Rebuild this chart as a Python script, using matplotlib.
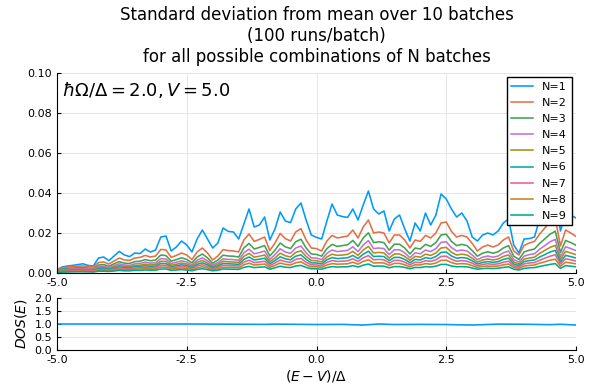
import numpy as np
import matplotlib
matplotlib.use("Agg")
import matplotlib.pyplot as plt

# energy grid (E-V)/Delta
energy = np.linspace(-5.0, 5.0, 101)

# standard deviation for each N
n1 = [0.0017, 0.0030, 0.0035, 0.0038, 0.0042, 0.0046, 0.0038, 0.0035, 0.0075, 0.0080,
      0.0062, 0.0085, 0.0108, 0.0090, 0.0082, 0.0100, 0.0097, 0.0120, 0.0105, 0.0115,
      0.0180, 0.0185, 0.0110, 0.0130, 0.0160, 0.0140, 0.0105, 0.0170, 0.0215, 0.0170,
      0.0125, 0.0150, 0.0225, 0.0208, 0.0205, 0.0170, 0.0245, 0.0320, 0.0230, 0.0240,
      0.0280, 0.0165, 0.0220, 0.0305, 0.0260, 0.0252, 0.0320, 0.0350, 0.0265, 0.0190,
      0.0178, 0.0170, 0.0260, 0.0345, 0.0290, 0.0282, 0.0278, 0.0320, 0.0265, 0.0340,
      0.0410, 0.0320, 0.0295, 0.0310, 0.0210, 0.0270, 0.0290, 0.0220, 0.0160, 0.0250,
      0.0210, 0.0300, 0.0240, 0.0290, 0.0395, 0.0370, 0.0320, 0.0280, 0.0300, 0.0260,
      0.0180, 0.0160, 0.0190, 0.0200, 0.0190, 0.0210, 0.0250, 0.0270, 0.0140, 0.0100,
      0.0170, 0.0172, 0.0180, 0.0270, 0.0320, 0.0370, 0.0400, 0.0210, 0.0300, 0.0290,
      0.0275]
n2 = [0.0020, 0.0025, 0.0030, 0.0033, 0.0034, 0.0035, 0.0033, 0.0032, 0.0052, 0.0055,
      0.0045, 0.0060, 0.0075, 0.0065, 0.0063, 0.0075, 0.0078, 0.0088, 0.0080, 0.0085,
      0.0118, 0.0115, 0.0078, 0.0088, 0.0100, 0.0090, 0.0067, 0.0105, 0.0125, 0.0100,
      0.0065, 0.0085, 0.0117, 0.0112, 0.0110, 0.0105, 0.0165, 0.0195, 0.0158, 0.0168,
      0.0180, 0.0112, 0.0150, 0.0198, 0.0172, 0.0160, 0.0205, 0.0222, 0.0165, 0.0125,
      0.0122, 0.0110, 0.0160, 0.0188, 0.0175, 0.0180, 0.0185, 0.0215, 0.0175, 0.0230,
      0.0265, 0.0200, 0.0205, 0.0200, 0.0150, 0.0190, 0.0190, 0.0165, 0.0125, 0.0165,
      0.0158, 0.0188, 0.0175, 0.0200, 0.0250, 0.0255, 0.0208, 0.0180, 0.0188, 0.0180,
      0.0148, 0.0110, 0.0130, 0.0140, 0.0130, 0.0140, 0.0165, 0.0180, 0.0110, 0.0090,
      0.0138, 0.0150, 0.0158, 0.0195, 0.0225, 0.0255, 0.0275, 0.0135, 0.0215, 0.0200,
      0.0183]
n3 = [0.0015, 0.0019, 0.0023, 0.0025, 0.0026, 0.0027, 0.0025, 0.0024, 0.0040, 0.0042,
      0.0034, 0.0046, 0.0057, 0.0049, 0.0048, 0.0057, 0.0059, 0.0067, 0.0061, 0.0065,
      0.0090, 0.0087, 0.0059, 0.0067, 0.0076, 0.0068, 0.0051, 0.0080, 0.0095, 0.0076,
      0.0049, 0.0065, 0.0089, 0.0085, 0.0084, 0.0080, 0.0125, 0.0148, 0.0120, 0.0128,
      0.0137, 0.0085, 0.0114, 0.0150, 0.0131, 0.0122, 0.0156, 0.0169, 0.0125, 0.0095,
      0.0093, 0.0084, 0.0122, 0.0143, 0.0133, 0.0137, 0.0141, 0.0163, 0.0133, 0.0175,
      0.0201, 0.0152, 0.0156, 0.0152, 0.0114, 0.0144, 0.0144, 0.0125, 0.0095, 0.0125,
      0.0120, 0.0143, 0.0133, 0.0152, 0.0190, 0.0194, 0.0158, 0.0137, 0.0143, 0.0137,
      0.0112, 0.0084, 0.0099, 0.0106, 0.0099, 0.0106, 0.0125, 0.0137, 0.0084, 0.0068,
      0.0105, 0.0114, 0.0120, 0.0148, 0.0171, 0.0194, 0.0209, 0.0103, 0.0163, 0.0152,
      0.0139]
n4 = [0.0012, 0.0015, 0.0018, 0.0020, 0.0021, 0.0021, 0.0020, 0.0020, 0.0032, 0.0034,
      0.0027, 0.0037, 0.0046, 0.0040, 0.0038, 0.0046, 0.0048, 0.0054, 0.0049, 0.0052,
      0.0072, 0.0070, 0.0048, 0.0054, 0.0061, 0.0055, 0.0041, 0.0064, 0.0076, 0.0061,
      0.0040, 0.0052, 0.0071, 0.0068, 0.0067, 0.0064, 0.0101, 0.0119, 0.0096, 0.0102,
      0.0110, 0.0068, 0.0092, 0.0121, 0.0105, 0.0098, 0.0125, 0.0135, 0.0101, 0.0076,
      0.0074, 0.0067, 0.0098, 0.0115, 0.0107, 0.0110, 0.0113, 0.0131, 0.0107, 0.0140,
      0.0162, 0.0122, 0.0125, 0.0122, 0.0092, 0.0116, 0.0116, 0.0101, 0.0076, 0.0101,
      0.0096, 0.0115, 0.0107, 0.0122, 0.0153, 0.0156, 0.0127, 0.0110, 0.0115, 0.0110,
      0.0090, 0.0067, 0.0079, 0.0085, 0.0079, 0.0085, 0.0101, 0.0110, 0.0067, 0.0055,
      0.0084, 0.0092, 0.0096, 0.0119, 0.0137, 0.0156, 0.0168, 0.0082, 0.0131, 0.0122,
      0.0112]
n5 = [0.0010, 0.0013, 0.0015, 0.0017, 0.0017, 0.0018, 0.0017, 0.0016, 0.0026, 0.0028,
      0.0023, 0.0030, 0.0038, 0.0033, 0.0032, 0.0038, 0.0039, 0.0044, 0.0040, 0.0043,
      0.0059, 0.0058, 0.0039, 0.0044, 0.0050, 0.0045, 0.0034, 0.0053, 0.0063, 0.0050,
      0.0033, 0.0043, 0.0059, 0.0056, 0.0055, 0.0053, 0.0083, 0.0098, 0.0079, 0.0084,
      0.0090, 0.0056, 0.0075, 0.0099, 0.0086, 0.0080, 0.0103, 0.0111, 0.0083, 0.0063,
      0.0061, 0.0055, 0.0080, 0.0094, 0.0088, 0.0090, 0.0093, 0.0108, 0.0088, 0.0115,
      0.0133, 0.0100, 0.0103, 0.0100, 0.0075, 0.0095, 0.0095, 0.0083, 0.0063, 0.0083,
      0.0079, 0.0094, 0.0088, 0.0100, 0.0125, 0.0128, 0.0104, 0.0090, 0.0094, 0.0090,
      0.0074, 0.0055, 0.0065, 0.0070, 0.0065, 0.0070, 0.0083, 0.0090, 0.0055, 0.0045,
      0.0069, 0.0075, 0.0079, 0.0098, 0.0113, 0.0128, 0.0138, 0.0068, 0.0108, 0.0100,
      0.0092]
n6 = [0.0008, 0.0010, 0.0012, 0.0014, 0.0014, 0.0014, 0.0014, 0.0013, 0.0021, 0.0023,
      0.0018, 0.0025, 0.0031, 0.0027, 0.0026, 0.0031, 0.0032, 0.0036, 0.0033, 0.0035,
      0.0048, 0.0047, 0.0032, 0.0036, 0.0041, 0.0037, 0.0027, 0.0043, 0.0051, 0.0041,
      0.0027, 0.0035, 0.0048, 0.0046, 0.0045, 0.0043, 0.0068, 0.0080, 0.0065, 0.0069,
      0.0074, 0.0046, 0.0062, 0.0081, 0.0071, 0.0066, 0.0084, 0.0091, 0.0068, 0.0051,
      0.0050, 0.0045, 0.0066, 0.0077, 0.0072, 0.0074, 0.0076, 0.0088, 0.0072, 0.0094,
      0.0109, 0.0082, 0.0084, 0.0082, 0.0062, 0.0078, 0.0078, 0.0068, 0.0051, 0.0068,
      0.0065, 0.0077, 0.0072, 0.0082, 0.0103, 0.0105, 0.0085, 0.0074, 0.0077, 0.0074,
      0.0061, 0.0045, 0.0053, 0.0057, 0.0053, 0.0057, 0.0068, 0.0074, 0.0045, 0.0037,
      0.0057, 0.0062, 0.0065, 0.0080, 0.0092, 0.0105, 0.0113, 0.0055, 0.0088, 0.0082,
      0.0075]
n7 = [0.0007, 0.0008, 0.0010, 0.0011, 0.0011, 0.0012, 0.0011, 0.0011, 0.0017, 0.0018,
      0.0015, 0.0020, 0.0025, 0.0021, 0.0021, 0.0025, 0.0026, 0.0029, 0.0026, 0.0028,
      0.0039, 0.0038, 0.0026, 0.0029, 0.0033, 0.0030, 0.0022, 0.0035, 0.0041, 0.0033,
      0.0021, 0.0028, 0.0039, 0.0037, 0.0036, 0.0035, 0.0054, 0.0064, 0.0052, 0.0055,
      0.0059, 0.0037, 0.0050, 0.0065, 0.0057, 0.0053, 0.0068, 0.0073, 0.0054, 0.0041,
      0.0040, 0.0036, 0.0053, 0.0062, 0.0058, 0.0059, 0.0061, 0.0071, 0.0058, 0.0076,
      0.0087, 0.0066, 0.0068, 0.0066, 0.0050, 0.0063, 0.0063, 0.0054, 0.0041, 0.0054,
      0.0052, 0.0062, 0.0058, 0.0066, 0.0083, 0.0084, 0.0069, 0.0059, 0.0062, 0.0059,
      0.0049, 0.0036, 0.0043, 0.0046, 0.0043, 0.0046, 0.0054, 0.0059, 0.0036, 0.0030,
      0.0046, 0.0050, 0.0052, 0.0064, 0.0074, 0.0084, 0.0091, 0.0045, 0.0071, 0.0066,
      0.0060]
n8 = [0.0005, 0.0006, 0.0008, 0.0008, 0.0009, 0.0009, 0.0008, 0.0008, 0.0013, 0.0014,
      0.0011, 0.0015, 0.0019, 0.0016, 0.0016, 0.0019, 0.0020, 0.0022, 0.0020, 0.0021,
      0.0030, 0.0029, 0.0020, 0.0022, 0.0025, 0.0023, 0.0017, 0.0026, 0.0031, 0.0025,
      0.0016, 0.0021, 0.0029, 0.0028, 0.0028, 0.0026, 0.0041, 0.0049, 0.0040, 0.0042,
      0.0045, 0.0028, 0.0038, 0.0050, 0.0043, 0.0040, 0.0051, 0.0056, 0.0041, 0.0031,
      0.0031, 0.0028, 0.0040, 0.0047, 0.0044, 0.0045, 0.0046, 0.0054, 0.0044, 0.0058,
      0.0066, 0.0050, 0.0051, 0.0050, 0.0038, 0.0048, 0.0048, 0.0041, 0.0031, 0.0041,
      0.0040, 0.0047, 0.0044, 0.0050, 0.0063, 0.0064, 0.0052, 0.0045, 0.0047, 0.0045,
      0.0037, 0.0028, 0.0033, 0.0035, 0.0033, 0.0035, 0.0041, 0.0045, 0.0028, 0.0023,
      0.0035, 0.0038, 0.0040, 0.0049, 0.0056, 0.0064, 0.0069, 0.0034, 0.0054, 0.0050,
      0.0046]
n9 = [0.0003, 0.0004, 0.0005, 0.0006, 0.0006, 0.0006, 0.0006, 0.0005, 0.0009, 0.0009,
      0.0008, 0.0010, 0.0013, 0.0011, 0.0011, 0.0013, 0.0013, 0.0015, 0.0014, 0.0014,
      0.0020, 0.0020, 0.0013, 0.0015, 0.0017, 0.0015, 0.0011, 0.0018, 0.0021, 0.0017,
      0.0011, 0.0014, 0.0020, 0.0019, 0.0019, 0.0018, 0.0028, 0.0033, 0.0027, 0.0029,
      0.0031, 0.0019, 0.0026, 0.0034, 0.0029, 0.0027, 0.0035, 0.0038, 0.0028, 0.0021,
      0.0021, 0.0019, 0.0027, 0.0032, 0.0030, 0.0031, 0.0031, 0.0037, 0.0030, 0.0039,
      0.0045, 0.0034, 0.0035, 0.0034, 0.0026, 0.0032, 0.0032, 0.0028, 0.0021, 0.0028,
      0.0027, 0.0032, 0.0030, 0.0034, 0.0043, 0.0043, 0.0035, 0.0031, 0.0032, 0.0031,
      0.0025, 0.0019, 0.0022, 0.0024, 0.0022, 0.0024, 0.0028, 0.0031, 0.0019, 0.0015,
      0.0023, 0.0026, 0.0027, 0.0033, 0.0038, 0.0043, 0.0047, 0.0023, 0.0037, 0.0034,
      0.0031]
series = [n1, n2, n3, n4, n5, n6, n7, n8, n9]
labels = ["N=1", "N=2", "N=3", "N=4", "N=5", "N=6", "N=7", "N=8", "N=9"]
colors = ["#009AFA", "#E36F47", "#3EA44E", "#C371D2", "#AC8E18",
          "#00A9AD", "#ED5E93", "#C68225", "#00A98F"]

# density of states (bottom panel)
dos_x = [-5.0, -4.0, -3.0, -2.5, -2.0, -1.5, -1.0, -0.8, -0.5, 0.0, 0.5,
         0.9, 1.2, 1.5, 2.0, 2.5, 3.0, 3.5, 4.0, 4.5, 4.7, 5.0]
dos_y = [1.0, 1.0, 1.0, 1.0, 0.995, 0.99, 0.985, 0.995, 0.99, 0.98, 0.985,
         0.96, 1.0, 0.98, 0.985, 0.98, 0.96, 0.995, 0.99, 0.975, 0.99, 0.96]

xticks = [-5.0, -2.5, 0.0, 2.5, 5.0]

plt.rcParams['grid.color'] = '#e6e6e6'
plt.rcParams['grid.linewidth'] = 0.7
plt.rcParams['lines.solid_joinstyle'] = 'round'


def style(ax):
    ax.spines['top'].set_visible(False)
    ax.spines['right'].set_visible(False)
    ax.tick_params(direction='in', length=3, labelsize=8)
    ax.set_xlim(-5, 5)
    ax.set_xticks(xticks)
    ax.set_xticklabels(["%.1f" % t for t in xticks])
    ax.grid(True)
    ax.set_axisbelow(True)


fig = plt.figure(figsize=(5.97, 3.90), dpi=100)

ax = fig.add_axes([57 / 597, 1 - 273 / 390, 519 / 597, 200 / 390])
for ys, lab, col in zip(series, labels, colors):
    ax.plot(energy, ys, color=col, linewidth=1.15, label=lab)
ax.set_ylim(0, 0.10)
ax.set_yticks([0.0, 0.02, 0.04, 0.06, 0.08, 0.10])
ax.set_yticklabels(["0.00", "0.02", "0.04", "0.06", "0.08", "0.10"])
style(ax)
ax.set_title("Standard deviation from mean over 10 batches\n(100 runs/batch)\n"
             "for all possible combinations of N batches",
             fontsize=12, linespacing=1.2, pad=8)
ax.text(0.01, 0.915, r"$\hbar\Omega/\Delta = 2.0, V = 5.0$", transform=ax.transAxes,
        fontsize=13, va='center', ha='left')
leg = ax.legend(loc='upper right', fontsize=8, frameon=True, fancybox=False,
                edgecolor='black', framealpha=1.0, borderaxespad=0.4,
                handlelength=2.0, labelspacing=0.55)
leg.get_frame().set_linewidth(1.0)

ax2 = fig.add_axes([57 / 597, 1 - 350 / 390, 519 / 597, 52 / 390])
ax2.plot(dos_x, dos_y, color="#009AFA", linewidth=1.15)
ax2.set_ylim(0, 2)
ax2.set_yticks([0.0, 0.5, 1.0, 1.5, 2.0])
style(ax2)
ax2.set_ylabel(r"$DOS(E)$", fontsize=10)
ax2.set_xlabel(r"$(E-V)/\Delta$", fontsize=10, labelpad=2)

fig.savefig("out.png", dpi=100)
